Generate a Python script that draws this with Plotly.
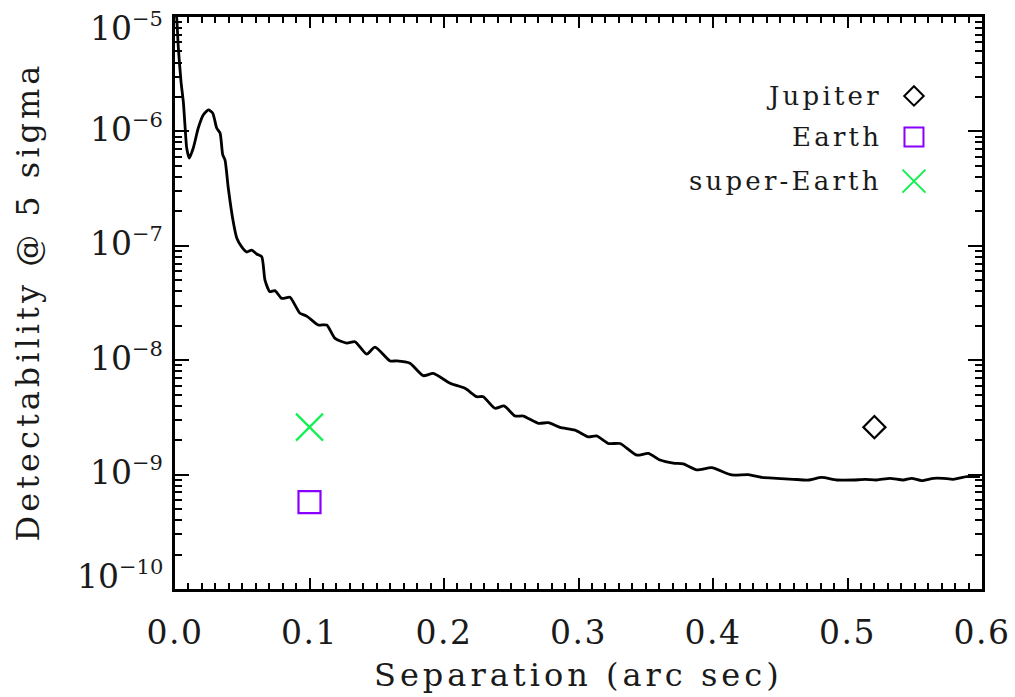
import math
import plotly.graph_objects as go

# Detection limit curve (separation in arcsec, detectability at 5 sigma)
sep = [0.0, 0.0013, 0.0025, 0.0045, 0.0062, 0.0074, 0.0087, 0.0106, 0.0136, 0.0173,
       0.0210, 0.0248, 0.0280, 0.0310, 0.0335, 0.0355, 0.0372, 0.0396, 0.0433, 0.0459,
       0.0496, 0.0533, 0.0570, 0.0607, 0.0645, 0.0669, 0.0706, 0.0743, 0.0793, 0.0855,
       0.0892, 0.0929, 0.0979, 0.1065, 0.1128, 0.1190, 0.1277, 0.1338, 0.1425, 0.1487,
       0.1599, 0.1648, 0.1747, 0.1846, 0.1920, 0.2045, 0.2156, 0.2243, 0.2292, 0.2379,
       0.2446, 0.2528, 0.2590, 0.2701, 0.2776, 0.2862, 0.2974, 0.3073, 0.3135, 0.3222,
       0.3309, 0.3433, 0.3519, 0.3606, 0.3705, 0.3779, 0.3879, 0.3990, 0.4139, 0.4262,
       0.4362, 0.4474, 0.4597, 0.4709, 0.4808, 0.4920, 0.5043, 0.5130, 0.5217, 0.5316,
       0.5415, 0.5477, 0.5552, 0.5638, 0.5712, 0.5787, 0.5886, 0.5985]
detect = [1.3e-5, 9.7e-6, 5.36e-6, 2.70e-6, 1.81e-6, 1.14e-6, 7.16e-7, 5.85e-7, 7.16e-7, 1.07e-6,
          1.39e-6, 1.54e-6, 1.45e-6, 1.07e-6, 9.68e-7, 6.22e-7, 5.62e-7, 3.20e-7, 1.62e-7, 1.17e-7,
          9.77e-8, 8.83e-8, 9.18e-8, 8.48e-8, 8.03e-8, 5.02e-8, 3.97e-8, 4.06e-8, 3.47e-8, 3.55e-8,
          3.04e-8, 2.57e-8, 2.43e-8, 2.03e-8, 2.03e-8, 1.55e-8, 1.41e-8, 1.45e-8, 1.13e-8, 1.30e-8,
          9.84e-9, 9.87e-9, 9.40e-9, 7.32e-9, 7.67e-9, 6.28e-9, 5.68e-9, 4.80e-9, 4.80e-9, 3.80e-9,
          3.98e-9, 3.25e-9, 3.25e-9, 2.81e-9, 2.84e-9, 2.59e-9, 2.45e-9, 2.14e-9, 2.18e-9, 1.87e-9,
          1.87e-9, 1.48e-9, 1.53e-9, 1.34e-9, 1.26e-9, 1.24e-9, 1.10e-9, 1.15e-9, 9.93e-10, 1.00e-9,
          9.46e-10, 9.28e-10, 9.10e-10, 8.97e-10, 9.46e-10, 8.97e-10, 8.97e-10, 9.07e-10, 8.97e-10, 9.28e-10,
          8.97e-10, 9.28e-10, 8.85e-10, 9.28e-10, 9.28e-10, 9.10e-10, 9.59e-10, 9.59e-10]

# Planets
planet_names = ["Jupiter", "Earth", "super-Earth"]
planet_sep = [0.52, 0.10, 0.10]
planet_det = [2.6e-9, 5.75e-10, 2.6e-9]
planet_symbols = ["diamond-open", "square-open", "x-thin-open"]
planet_colors = ["#000000", "#8a00ff", "#10f050"]
planet_sizes = [17, 22, 27]
legend_sizes = [15, 19, 23]

# Axis ticks
x_ticks = [0.0, 0.1, 0.2, 0.3, 0.4, 0.5, 0.6]
x_ticktext = ["0.0", "0.1", "0.2", "0.3", "0.4", "0.5", "0.6"]
y_ticks = [1e-10, 1e-9, 1e-8, 1e-7, 1e-6, 1e-5]
y_exponents = ["\u221210", "\u22129", "\u22128", "\u22127", "\u22126", "\u22125"]

FONT = "DejaVu Serif"
TXT = "#1a1a1a"


def spaced(s, px):
    return '<span style="letter-spacing:%spx">%s</span>' % (px, s)


fig = go.Figure()
fig.add_trace(go.Scatter(x=sep, y=detect, mode="lines",
                         line=dict(color="black", width=2.8, shape="spline", smoothing=0.6),
                         showlegend=False, hoverinfo="skip"))
for n, xs, ys, sym, col, sz in zip(planet_names, planet_sep, planet_det, planet_symbols,
                                   planet_colors, planet_sizes):
    fig.add_trace(go.Scatter(x=[xs], y=[ys], mode="markers", name=n,
                             marker=dict(symbol=sym, size=sz, color=col,
                                         line=dict(color=col, width=2.2)),
                             showlegend=False))

# Custom legend keys (text left of symbol) on an invisible overlay axis
legend_y = [0.862, 0.790, 0.713]
for n, col, sym, sz, ly in zip(planet_names, planet_colors, planet_symbols, legend_sizes, legend_y):
    fig.add_trace(go.Scatter(x=[0.9157], y=[ly], xaxis="x2", yaxis="y2", mode="markers",
                             marker=dict(symbol=sym, size=sz, color=col,
                                         line=dict(color=col, width=2)),
                             showlegend=False, hoverinfo="skip"))
    fig.add_annotation(text=spaced(n, 3.2), x=0.8786, y=ly, xref="paper", yref="paper",
                       xanchor="right", yanchor="middle", showarrow=False,
                       font=dict(family=FONT, size=26, color=TXT))

axis_common = dict(showline=True, linecolor="black", linewidth=3, mirror="allticks",
                   ticks="inside", tickcolor="black", tickwidth=2, showgrid=False,
                   zeroline=False, ticklabeloverflow="allow", automargin=False,
                   tickfont=dict(family=FONT, size=33, color=TXT))

fig.update_layout(
    width=1015, height=697,
    margin=dict(l=175, r=33, t=17, b=108),
    plot_bgcolor="white", paper_bgcolor="white",
    xaxis=dict(range=[0, 0.6], tickmode="array", tickvals=x_ticks,
               ticktext=[spaced(t, 1.5) for t in x_ticktext],
               ticklen=11, ticklabelstandoff=12,
               minor=dict(ticks="inside", dtick=0.01, ticklen=6, tickwidth=2, tickcolor="black"),
               **axis_common),
    yaxis=dict(type="log", range=[-10, -5], tickmode="array", tickvals=y_ticks,
               showticklabels=False, ticklen=14,
               minor=dict(ticks="inside", dtick="D1", ticklen=7, tickwidth=2, tickcolor="black"),
               **axis_common),
    xaxis2=dict(range=[0, 1], overlaying="x", visible=False),
    yaxis2=dict(range=[0, 1], overlaying="y", visible=False),
    showlegend=False,
)

# y tick labels as annotations (edge labels nudged inward, as in the original)
for i, (v, e) in enumerate(zip(y_ticks, y_exponents)):
    shift = 3
    if i == 0:
        shift = 14
    elif i == len(y_ticks) - 1:
        shift = -10
    fig.add_annotation(text='10<sup><span style="font-size:21px">%s</span></sup>' % e,
                       x=0, xref="paper", y=math.log10(v), yref="y",
                       xanchor="right", yanchor="middle", xshift=-10, yshift=shift,
                       showarrow=False, font=dict(family=FONT, size=33, color=TXT))

fig.add_annotation(text=spaced("Separation (arc sec)", 4), x=0.5, y=-0.15,
                   xref="paper", yref="paper",
                   xanchor="center", yanchor="middle", showarrow=False,
                   font=dict(family=FONT, size=32, color=TXT))
fig.add_annotation(text=spaced("Detectability @ 5 sigma", 4), x=-0.182, y=0.503,
                   xref="paper", yref="paper",
                   xanchor="center", yanchor="middle", textangle=-90, showarrow=False,
                   font=dict(family=FONT, size=32, color=TXT))

fig.write_html("out.html")
